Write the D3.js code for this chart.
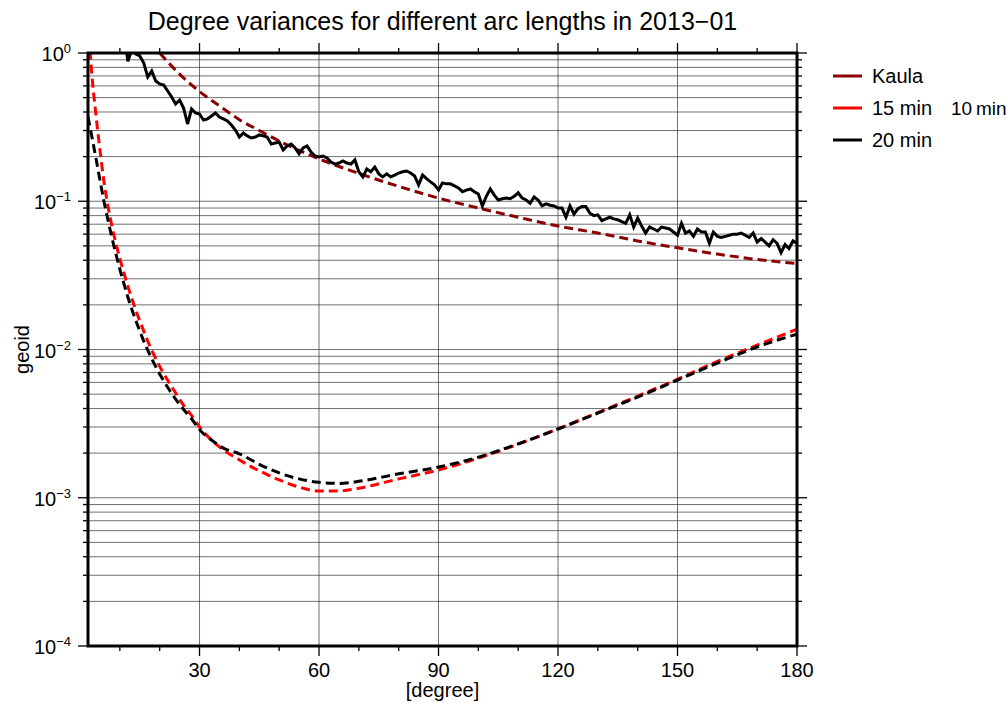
<!DOCTYPE html>
<html><head><meta charset="utf-8">
<script src="https://cdn.jsdelivr.net/npm/d3@7"></script>
<style>
body{margin:0;background:#fff;}
text{font-family:"Liberation Sans",Arial,Helvetica,sans-serif;fill:#000;}
</style></head>
<body><svg id="c" width="1006" height="703"></svg>
<script>
// ---------- data ----------
const title = "Degree variances for different arc lengths in 2013\u221201";
const xLabel = "[degree]";
const yLabel = "geoid";
const xTickValues = [30, 60, 90, 120, 150, 180];
const yTickExponents = [0, -1, -2, -3, -4];

const kaulaDegrees = [20, 25, 30, 35, 40, 45, 50, 55, 60, 70, 80, 90, 100, 110, 120, 130, 140, 150, 160, 170, 180];
const kaulaValues  = [1.00, 0.72, 0.55, 0.44, 0.355, 0.30, 0.255, 0.22, 0.193, 0.154, 0.126, 0.105, 0.090, 0.078, 0.068, 0.061, 0.054, 0.0485, 0.044, 0.0405, 0.038];

const signalStartDegree = 11;
const signalValues = [
  1.40, 0.88, 1.05, 0.985, 0.955, 0.856, 0.689, 0.756, 0.647, 0.618,
  0.608, 0.554, 0.505, 0.453, 0.482, 0.425, 0.332, 0.419, 0.394, 0.388,
  0.353, 0.359, 0.376, 0.394, 0.370, 0.359, 0.348, 0.327, 0.302, 0.271,
  0.289, 0.276, 0.267, 0.271, 0.280, 0.276, 0.271, 0.243, 0.247, 0.251,
  0.222, 0.236, 0.243, 0.229, 0.209, 0.229, 0.236, 0.215, 0.202, 0.199,
  0.202, 0.196, 0.184, 0.178, 0.181, 0.187, 0.181, 0.178, 0.190, 0.158,
  0.146, 0.165, 0.158, 0.170, 0.153, 0.146, 0.153, 0.146, 0.150, 0.155,
  0.158, 0.160, 0.155, 0.148, 0.129, 0.150, 0.142, 0.135, 0.129, 0.119,
  0.133, 0.131, 0.131, 0.127, 0.123, 0.116, 0.119, 0.121, 0.116, 0.112,
  0.093, 0.108, 0.121, 0.110, 0.102, 0.104, 0.105, 0.104, 0.108, 0.114,
  0.105, 0.102, 0.097, 0.107, 0.102, 0.093, 0.096, 0.094, 0.093, 0.090,
  0.090, 0.078, 0.093, 0.082, 0.089, 0.092, 0.092, 0.083, 0.080, 0.081,
  0.074, 0.076, 0.078, 0.076, 0.075, 0.073, 0.071, 0.081, 0.067, 0.077,
  0.068, 0.061, 0.067, 0.065, 0.063, 0.067, 0.066, 0.065, 0.062, 0.059,
  0.071, 0.061, 0.063, 0.058, 0.065, 0.062, 0.062, 0.052, 0.062, 0.058,
  0.057, 0.058, 0.059, 0.060, 0.060, 0.061, 0.059, 0.057, 0.061, 0.053,
  0.056, 0.053, 0.050, 0.055, 0.052, 0.045, 0.051, 0.048, 0.054, 0.052
];

const errDegrees = [2, 3, 4, 5, 6, 7, 8, 9, 10, 11, 12, 13, 14, 15, 16, 17, 18, 19, 20, 22, 24, 26, 28, 30, 33, 36, 40, 45, 50, 55, 60, 65, 70, 80, 90, 100, 110, 120, 130, 140, 150, 160, 170, 180];
const err15Values = [1.6, 0.70, 0.38, 0.222, 0.136, 0.093, 0.068, 0.052, 0.041, 0.033, 0.0267, 0.0221, 0.0184, 0.0156, 0.0133, 0.0114, 0.0099, 0.0087, 0.0077, 0.0062, 0.0051, 0.0042, 0.0036, 0.0030, 0.00245, 0.00210, 0.00180, 0.00152, 0.00132, 0.00118, 0.00111, 0.00111, 0.00116, 0.00134, 0.00154, 0.00185, 0.00230, 0.00291, 0.00375, 0.00485, 0.00630, 0.0083, 0.0107, 0.0137];
const err20Values = [0.372, 0.270, 0.195, 0.139, 0.100, 0.0750, 0.0569, 0.0442, 0.0347, 0.0279, 0.0226, 0.0187, 0.0157, 0.0133, 0.0114, 0.00989, 0.00867, 0.00767, 0.00684, 0.00556, 0.00462, 0.00394, 0.00341, 0.00288, 0.00245, 0.00216, 0.00198, 0.00168, 0.00147, 0.00134, 0.00127, 0.00125, 0.00129, 0.00145, 0.00161, 0.00188, 0.00231, 0.00291, 0.00373, 0.00478, 0.00622, 0.0081, 0.0104, 0.0127];

const legendItems = ["Kaula", "15 min", "20 min"];
const legendColors = ["#8b0000", "#ff0000", "#000000"];
const legendExtra = "10\u2009min";

// ---------- layout ----------
const L = 88, R = 797, T = 53, B = 646;
const svg = d3.select("#c");
const x = d3.scaleLinear().domain([2, 180]).range([L, R]);
const y = d3.scaleLog().domain([1e-4, 1]).range([B, T]);

// grid
const g = svg.append("g");
const minorY = [];
for (let e = -4; e < 0; e++) for (let m = 1; m <= 9; m++) minorY.push(m * Math.pow(10, e));
minorY.push(1);
g.selectAll("line.hg").data(minorY).enter().append("line")
  .attr("x1", L).attr("x2", R).attr("y1", d => y(d)).attr("y2", d => y(d))
  .attr("stroke", "#333").attr("stroke-width", 0.7);
g.selectAll("line.vg").data(xTickValues).enter().append("line")
  .attr("y1", T).attr("y2", B).attr("x1", d => x(d)).attr("x2", d => x(d))
  .attr("stroke", "#333").attr("stroke-width", 0.7);

// clip
svg.append("clipPath").attr("id", "clip").append("rect")
  .attr("x", L).attr("y", T).attr("width", R - L).attr("height", B - T);
const plot = svg.append("g").attr("clip-path", "url(#clip)");

const line = d3.line().x(d => x(d[0])).y(d => y(d[1]));
const smooth = d3.line().curve(d3.curveMonotoneX).x(d => x(d[0])).y(d => y(d[1]));

const errPairs15 = errDegrees.map((d, i) => [d, err15Values[i]]);
const errPairs20 = errDegrees.map((d, i) => [d, err20Values[i]]);
const kaulaPairs = kaulaDegrees.map((d, i) => [d, kaulaValues[i]]);
const signalPairs = signalValues.map((v, i) => [signalStartDegree + i, v]);

plot.append("path").attr("d", smooth(errPairs15)).attr("fill", "none")
  .attr("stroke", legendColors[1]).attr("stroke-width", 3).attr("stroke-dasharray", "9,5");
plot.append("path").attr("d", smooth(errPairs20)).attr("fill", "none")
  .attr("stroke", legendColors[2]).attr("stroke-width", 3).attr("stroke-dasharray", "9,5");
plot.append("path").attr("d", smooth(kaulaPairs)).attr("fill", "none")
  .attr("stroke", legendColors[0]).attr("stroke-width", 3).attr("stroke-dasharray", "9,5");
plot.append("path").attr("d", line(signalPairs)).attr("fill", "none")
  .attr("stroke", "#000").attr("stroke-width", 3).attr("stroke-linejoin", "miter");

// frame
svg.append("rect").attr("x", L).attr("y", T).attr("width", R - L).attr("height", B - T)
  .attr("fill", "none").attr("stroke", "#000").attr("stroke-width", 3);

// ticks
const minorX = d3.range(10, 181, 10);
const ax = svg.append("g").attr("stroke", "#000").attr("stroke-width", 1.3);
minorX.forEach(d => {
  const len = xTickValues.includes(d) ? 10 : 5;
  ax.append("line").attr("x1", x(d)).attr("x2", x(d)).attr("y1", B).attr("y2", B + len);
  ax.append("line").attr("x1", x(d)).attr("x2", x(d)).attr("y1", T).attr("y2", T - len);
});
minorY.forEach(d => {
  const major = Math.abs(Math.log10(d) - Math.round(Math.log10(d))) < 1e-9;
  const len = major ? 10 : 5;
  ax.append("line").attr("x1", L - len).attr("x2", L).attr("y1", y(d)).attr("y2", y(d));
  ax.append("line").attr("x1", R).attr("x2", R + len).attr("y1", y(d)).attr("y2", y(d));
});

// tick labels
svg.selectAll("text.xt").data(xTickValues).enter().append("text")
  .attr("x", d => x(d)).attr("y", 677).attr("text-anchor", "middle")
  .attr("font-size", 20).text(d => d);

yTickExponents.forEach(e => {
  const t = svg.append("text").attr("x", 71).attr("y", y(Math.pow(10, e)) + 8)
    .attr("text-anchor", "end").attr("font-size", 20);
  t.append("tspan").text("10");
  t.append("tspan").attr("dy", -8).attr("font-size", 13).text(e === 0 ? "0" : "\u2212" + Math.abs(e));
});

// axis labels & title
svg.append("text").attr("x", (L + R) / 2).attr("y", 697).attr("text-anchor", "middle")
  .attr("font-size", 20).text(xLabel);
svg.append("text").attr("transform", `translate(29,${(T + B) / 2}) rotate(-90)`)
  .attr("text-anchor", "middle").attr("font-size", 20).text(yLabel);
svg.append("text").attr("x", (L + R) / 2).attr("y", 30).attr("text-anchor", "middle")
  .attr("font-size", 25).text(title);

// legend
const lg = svg.append("g");
legendItems.forEach((name, i) => {
  const yy = 76 + i * 32;
  lg.append("line").attr("x1", 833).attr("x2", 862).attr("y1", yy).attr("y2", yy)
    .attr("stroke", legendColors[i]).attr("stroke-width", 3);
  lg.append("text").attr("x", 872).attr("y", yy + 7).attr("font-size", 20).text(name);
});
lg.append("text").attr("x", 951).attr("y", 108 + 7).attr("font-size", 19).text(legendExtra);
</script></body></html>
